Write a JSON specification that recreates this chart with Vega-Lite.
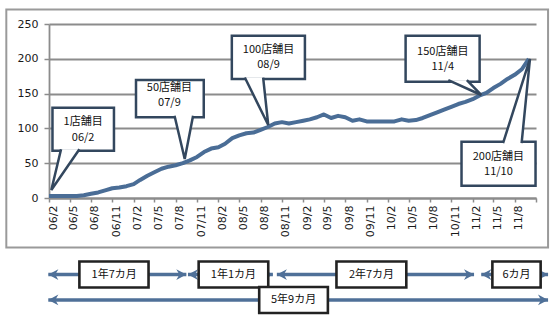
{
  "$schema": "https://vega.github.io/schema/vega-lite/v6.json",
  "width": 487,
  "height": 174,
  "autosize": {"type": "none"},
  "padding": {"left": 49, "top": 24, "right": 19, "bottom": 129},
  "background": "white",
  "config": {
    "view": {"stroke": null},
    "font": "DejaVu Sans",
    "axis": {"title": null, "labelFont": "DejaVu Sans", "labelFontSize": 11, "labelColor": "#1a1a1a", "domainColor": "#8c8c8c", "domainWidth": 1.8, "tickColor": "#8c8c8c", "tickWidth": 1.5, "labelOverlap": false},
    "axisX": {"grid": false, "labelAngle": -90, "tickSize": 4, "labelPadding": 3, "labelOffset": 4},
    "axisY": {"grid": true, "gridColor": "#8c8c8c", "gridWidth": 1.8, "tickSize": 5, "labelPadding": 6}
  },
  "datasets": {
    "stores": [
      {"date": "2006/02/01", "stores": 3}, {"date": "2006/03/01", "stores": 3}, {"date": "2006/04/01", "stores": 3},
      {"date": "2006/05/01", "stores": 3}, {"date": "2006/06/01", "stores": 3}, {"date": "2006/07/01", "stores": 4},
      {"date": "2006/08/01", "stores": 6}, {"date": "2006/09/01", "stores": 8}, {"date": "2006/10/01", "stores": 11},
      {"date": "2006/11/01", "stores": 14}, {"date": "2006/12/01", "stores": 15}, {"date": "2007/01/01", "stores": 17},
      {"date": "2007/02/01", "stores": 20}, {"date": "2007/03/01", "stores": 26}, {"date": "2007/04/01", "stores": 32},
      {"date": "2007/05/01", "stores": 37}, {"date": "2007/06/01", "stores": 42}, {"date": "2007/07/01", "stores": 45},
      {"date": "2007/08/01", "stores": 47}, {"date": "2007/09/01", "stores": 50}, {"date": "2007/10/01", "stores": 54},
      {"date": "2007/11/01", "stores": 59}, {"date": "2007/12/01", "stores": 66}, {"date": "2008/01/01", "stores": 71},
      {"date": "2008/02/01", "stores": 73}, {"date": "2008/03/01", "stores": 78}, {"date": "2008/04/01", "stores": 86},
      {"date": "2008/05/01", "stores": 90}, {"date": "2008/06/01", "stores": 93}, {"date": "2008/07/01", "stores": 94},
      {"date": "2008/08/01", "stores": 98}, {"date": "2008/09/01", "stores": 102}, {"date": "2008/10/01", "stores": 107},
      {"date": "2008/11/01", "stores": 109}, {"date": "2008/12/01", "stores": 107}, {"date": "2009/01/01", "stores": 109},
      {"date": "2009/02/01", "stores": 111}, {"date": "2009/03/01", "stores": 113}, {"date": "2009/04/01", "stores": 116},
      {"date": "2009/05/01", "stores": 120}, {"date": "2009/06/01", "stores": 115}, {"date": "2009/07/01", "stores": 118},
      {"date": "2009/08/01", "stores": 116}, {"date": "2009/09/01", "stores": 111}, {"date": "2009/10/01", "stores": 113},
      {"date": "2009/11/01", "stores": 110}, {"date": "2009/12/01", "stores": 110}, {"date": "2010/01/01", "stores": 110},
      {"date": "2010/02/01", "stores": 110}, {"date": "2010/03/01", "stores": 110}, {"date": "2010/04/01", "stores": 113},
      {"date": "2010/05/01", "stores": 111}, {"date": "2010/06/01", "stores": 112}, {"date": "2010/07/01", "stores": 115},
      {"date": "2010/08/01", "stores": 119}, {"date": "2010/09/01", "stores": 123}, {"date": "2010/10/01", "stores": 127},
      {"date": "2010/11/01", "stores": 131}, {"date": "2010/12/01", "stores": 135}, {"date": "2011/01/01", "stores": 138},
      {"date": "2011/02/01", "stores": 142}, {"date": "2011/03/01", "stores": 147}, {"date": "2011/04/01", "stores": 151},
      {"date": "2011/05/01", "stores": 158}, {"date": "2011/06/01", "stores": 164}, {"date": "2011/07/01", "stores": 171},
      {"date": "2011/08/01", "stores": 177}, {"date": "2011/09/01", "stores": 185}, {"date": "2011/10/01", "stores": 200}
    ],
    "calloutBoxes": [
      {"id": 1, "x1": "2006/02/16", "x2": "2006/11/08", "y1": 68, "y2": 129.7},
      {"id": 2, "x1": "2007/02/11", "x2": "2007/11/30", "y1": 116, "y2": 169.5},
      {"id": 3, "x1": "2008/03/30", "x2": "2009/02/08", "y1": 171, "y2": 233.2},
      {"id": 4, "x1": "2010/04/18", "x2": "2011/03/03", "y1": 167.1, "y2": 233.2},
      {"id": 5, "x1": "2010/12/15", "x2": "2011/10/30", "y1": 17.7, "y2": 80.9}
    ],
    "pointers": [
      {"id": 1, "seq": 1, "date": "2006/03/25", "value": 70.1},
      {"id": 1, "seq": 2, "date": "2006/02/11", "value": 11.5},
      {"id": 1, "seq": 3, "date": "2006/06/12", "value": 70.1},
      {"id": 2, "seq": 1, "date": "2007/07/27", "value": 118.1},
      {"id": 2, "seq": 2, "date": "2007/09/09", "value": 56},
      {"id": 2, "seq": 3, "date": "2007/10/15", "value": 118.1},
      {"id": 3, "seq": 1, "date": "2008/05/25", "value": 173.1},
      {"id": 3, "seq": 2, "date": "2008/09/03", "value": 104.9},
      {"id": 3, "seq": 3, "date": "2008/08/12", "value": 173.1},
      {"id": 4, "seq": 1, "date": "2010/10/19", "value": 169.3},
      {"id": 4, "seq": 2, "date": "2011/03/10", "value": 148},
      {"id": 4, "seq": 3, "date": "2011/01/07", "value": 169.3},
      {"id": 5, "seq": 1, "date": "2011/06/12", "value": 78.7},
      {"id": 5, "seq": 2, "date": "2011/10/06", "value": 200},
      {"id": 5, "seq": 3, "date": "2011/08/31", "value": 78.7}
    ],
    "calloutText": [
      {"text": "1店舗目", "date": "2006/06/28", "value": 108.8},
      {"text": "06/2", "date": "2006/06/28", "value": 86.6},
      {"text": "50店舗目", "date": "2007/07/05", "value": 158.5},
      {"text": "07/9", "date": "2007/07/05", "value": 137},
      {"text": "100店舗目", "date": "2008/09/04", "value": 212.6},
      {"text": "08/9", "date": "2008/09/04", "value": 191},
      {"text": "150店舗目", "date": "2010/09/25", "value": 210.2},
      {"text": "11/4", "date": "2010/09/25", "value": 188.6},
      {"text": "200店舗目", "date": "2011/05/23", "value": 59.3},
      {"text": "11/10", "date": "2011/05/23", "value": 36.9}
    ],
    "spans": [
      {"row": 1, "start": "2006/01/29", "end": "2007/09/16"},
      {"row": 1, "start": "2007/09/23", "end": "2008/09/23"},
      {"row": 1, "start": "2008/10/10", "end": "2011/02/07"},
      {"row": 1, "start": "2011/03/10", "end": "2011/12/23"},
      {"row": 2, "start": "2006/01/29", "end": "2011/12/23"}
    ],
    "spanBoxes": [
      {"label": "1年7カ月", "row": 1, "x1": "2006/06/12", "x2": "2007/04/06", "xc": "2006/11/09"},
      {"label": "1年1カ月", "row": 1, "x1": "2007/11/08", "x2": "2008/09/03", "xc": "2008/04/06"},
      {"label": "2年7カ月", "row": 1, "x1": "2009/06/24", "x2": "2010/04/21", "xc": "2009/11/22"},
      {"label": "6カ月", "row": 1, "x1": "2011/04/27", "x2": "2011/11/21", "xc": "2011/08/09"},
      {"label": "5年9カ月", "row": 2, "x1": "2008/07/26", "x2": "2009/05/18", "xc": "2008/12/21"}
    ]
  },
  "resolve": {"scale": {"y": "independent"}, "axis": {"y": "independent"}},
  "layer": [
    {
      "layer": [
        {
          "data": {"name": "stores"},
          "mark": {"type": "line", "color": "#4a6d96", "strokeWidth": 4, "strokeJoin": "round"},
          "encoding": {
            "x": {
              "field": "date", "type": "temporal",
              "scale": {"domain": [{"year": 2006, "month": 2, "date": 1}, {"year": 2011, "month": 11, "date": 1}], "nice": false},
              "axis": {
                "tickCount": 100,
                "values": [
                  {"year": 2006, "month": 2, "date": 1}, {"year": 2006, "month": 5, "date": 1}, {"year": 2006, "month": 8, "date": 1}, {"year": 2006, "month": 11, "date": 1},
                  {"year": 2007, "month": 2, "date": 1}, {"year": 2007, "month": 5, "date": 1}, {"year": 2007, "month": 8, "date": 1}, {"year": 2007, "month": 11, "date": 1},
                  {"year": 2008, "month": 2, "date": 1}, {"year": 2008, "month": 5, "date": 1}, {"year": 2008, "month": 8, "date": 1}, {"year": 2008, "month": 11, "date": 1},
                  {"year": 2009, "month": 2, "date": 1}, {"year": 2009, "month": 5, "date": 1}, {"year": 2009, "month": 8, "date": 1}, {"year": 2009, "month": 11, "date": 1},
                  {"year": 2010, "month": 2, "date": 1}, {"year": 2010, "month": 5, "date": 1}, {"year": 2010, "month": 8, "date": 1}, {"year": 2010, "month": 11, "date": 1},
                  {"year": 2011, "month": 2, "date": 1}, {"year": 2011, "month": 5, "date": 1}, {"year": 2011, "month": 8, "date": 1}, {"year": 2011, "month": 11, "date": 1}
                ],
                "labelExpr": "datum.value > datetime(2011, 9, 15) ? '' : timeFormat(datum.value, '%y/%-m')"
              }
            },
            "y": {
              "field": "stores", "type": "quantitative",
              "scale": {"domain": [0, 250], "nice": false},
              "axis": {"tickCount": 20, "values": [0, 50, 100, 150, 200, 250]}
            }
          }
        },
        {
          "data": {"values": [{}]},
          "mark": {"type": "rect", "filled": false, "color": "#9a9a9a", "strokeWidth": 2},
          "encoding": {
            "x": {"datum": {"year": 2005, "month": 8, "date": 1}, "type": "temporal"},
            "x2": {"datum": {"year": 2011, "month": 12, "date": 23}},
            "y": {"datum": 271, "type": "quantitative"},
            "y2": {"datum": -71}
          }
        },
        {
          "data": {"name": "calloutBoxes"},
          "mark": {"type": "rect", "fill": "white", "stroke": "#33475e", "strokeWidth": 2.5},
          "encoding": {
            "x": {"field": "x1", "type": "temporal"},
            "x2": {"field": "x2"},
            "y": {"field": "y1", "type": "quantitative"},
            "y2": {"field": "y2"}
          }
        },
        {
          "data": {"name": "pointers"},
          "mark": {"type": "line", "fill": "white", "stroke": "#33475e", "strokeWidth": 2.5, "strokeJoin": "miter"},
          "encoding": {
            "x": {"field": "date", "type": "temporal"},
            "y": {"field": "value", "type": "quantitative"},
            "detail": {"field": "id", "type": "nominal"},
            "order": {"field": "seq", "type": "quantitative"}
          }
        },
        {
          "data": {"name": "calloutText"},
          "mark": {"type": "text", "font": "Noto Sans CJK JP", "fontSize": 11, "color": "#111111", "align": "center", "baseline": "middle"},
          "encoding": {
            "x": {"field": "date", "type": "temporal"},
            "y": {"field": "value", "type": "quantitative"},
            "text": {"field": "text", "type": "nominal"}
          }
        }
      ]
    },
    {
      "layer": [
        {
          "data": {"name": "spans"},
          "mark": {"type": "rule", "color": "#4f7098", "strokeWidth": 3.5},
          "encoding": {
            "x": {"field": "start", "type": "temporal"},
            "x2": {"field": "end"},
            "y": {"field": "row", "type": "quantitative", "scale": {"domain": [1, 2], "range": [245.5, 281]}, "axis": null}
          }
        },
        {
          "data": {"name": "spans"},
          "transform": [{"fold": ["start", "end"], "as": ["side", "when"]}],
          "mark": {"type": "point", "filled": true, "color": "#4f7098", "strokeWidth": 0, "size": 60, "opacity": 1},
          "encoding": {
            "x": {"field": "when", "type": "temporal"},
            "y": {"field": "row", "type": "quantitative", "axis": null},
            "shape": {"field": "side", "type": "nominal", "legend": null,
              "scale": {"domain": ["start", "end"], "range": ["M0,0L2.6,-1.4L1.8,0L2.6,1.4Z", "M0,0L-2.6,-1.4L-1.8,0L-2.6,1.4Z"]}}
          }
        },
        {
          "data": {"name": "spanBoxes"},
          "mark": {"type": "bar", "height": 26, "fill": "white", "stroke": "#222222", "strokeWidth": 2.6},
          "encoding": {
            "x": {"field": "x1", "type": "temporal"},
            "x2": {"field": "x2"},
            "y": {"field": "row", "type": "quantitative", "axis": null}
          }
        },
        {
          "data": {"name": "spanBoxes"},
          "mark": {"type": "text", "font": "Noto Sans CJK JP", "fontSize": 11, "color": "#111111", "align": "center", "baseline": "middle"},
          "encoding": {
            "x": {"field": "xc", "type": "temporal"},
            "y": {"field": "row", "type": "quantitative", "axis": null},
            "text": {"field": "label", "type": "nominal"}
          }
        }
      ]
    }
  ]
}
